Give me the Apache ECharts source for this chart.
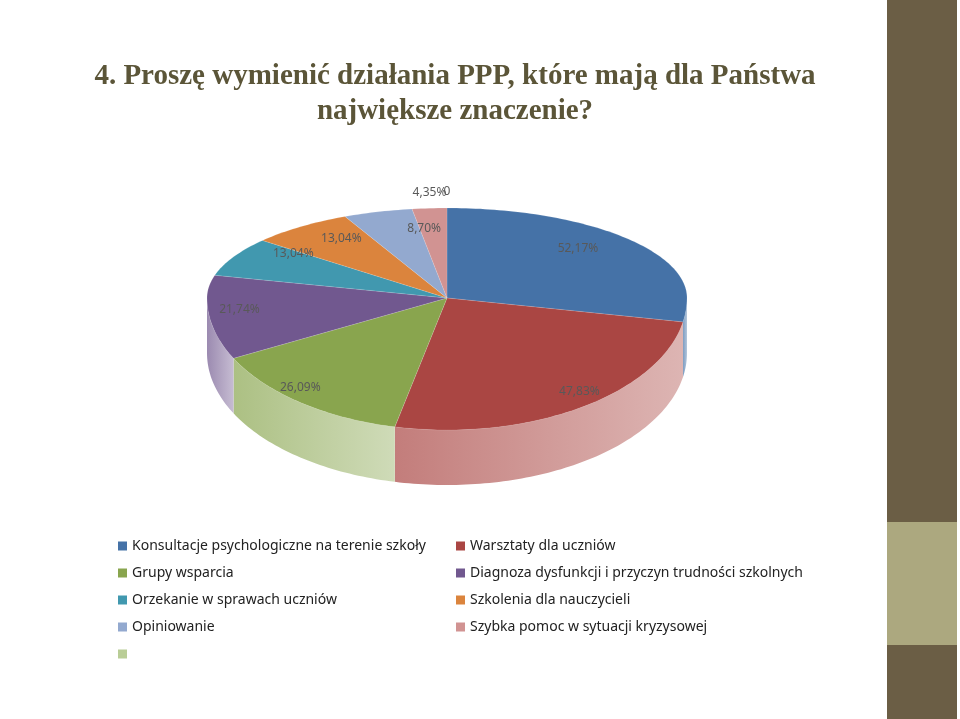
<!DOCTYPE html>
<html lang="pl">
<head>
<meta charset="UTF-8">
<title>PPP</title>
<script src="https://cdn.jsdelivr.net/npm/echarts@6/dist/echarts.min.js"></script>
<style>
  html, body { margin: 0; padding: 0; background: #fff; }
  #chart { width: 960px; height: 719px; }
</style>
</head>
<body>
<div id="chart"></div>
<script>
  // dane z wykresu
  const names = [
    'Konsultacje psychologiczne na terenie szkoły',
    'Warsztaty dla uczniów',
    'Grupy wsparcia',
    'Diagnoza dysfunkcji i przyczyn trudności szkolnych',
    'Orzekanie w sprawach uczniów',
    'Szkolenia dla nauczycieli',
    'Opiniowanie',
    'Szybka pomoc w sytuacji kryzysowej',
    ' '
  ];
  const values = [52.17, 47.83, 26.09, 21.74, 13.04, 13.04, 8.70, 4.35, 0];
  const colors = ['#4572a7', '#aa4643', '#89a54e', '#71588f', '#4198af',
                  '#db843d', '#93a9cf', '#d19392', '#b9cd96'];
  // położenie etykiet względem krawędzi (jak w Excelu)
  const labelKx = [0.71, 1.0, 1.0, 0.87, 0.72, 0.72, 0.33, 1.0, 1.0];
  const labelKy = [0.85, 0.85, 0.86, 0.8, 1.07, 0.83, 0.81, 1.18, 1.18];

  const chart = echarts.init(document.getElementById('chart'));

  // geometria pseudo-3D elipsy
  const cx = 447, cy = 298, rx = 240, ryBack = 90, ryFront = 132, depth = 55;
  const total = values.reduce((a, b) => a + b, 0);
  const starts = [];
  values.reduce((acc, v, i) => { starts[i] = acc; return acc + v; }, 0);

  function pt(theta, dy) {
    const c = Math.cos(theta);
    const ry = c > 0 ? ryBack : ryFront;
    return [cx + rx * Math.sin(theta), cy - ry * c + (dy || 0)];
  }
  function arc(a0, a1, dy) {
    const pts = [];
    const n = Math.max(2, Math.ceil((a1 - a0) / 0.02));
    for (let k = 0; k <= n; k++) pts.push(pt(a0 + (a1 - a0) * k / n, dy));
    return pts;
  }
  function fmt(v) {
    return v === 0 ? '0' : v.toFixed(2).replace('.', ',') + '%';
  }

  function makeRender(i) {
    return function () {
      const a0 = starts[i] / total * 2 * Math.PI;
      const a1 = (starts[i] + values[i]) / total * 2 * Math.PI;
      const children = [];
      const col = colors[i];
      // bok (widoczny z przodu)
      const s0 = Math.max(a0, Math.PI / 2), s1 = Math.min(a1, 1.5 * Math.PI);
      if (s1 > s0) {
        const top = arc(s0, s1, 0);
        const bot = arc(s0, s1, depth).reverse();
        children.push({
          type: 'polygon', z2: 1,
          shape: { points: top.concat(bot) },
          style: {
            fill: new echarts.graphic.LinearGradient(0, 0, 1, 0, [
              { offset: 0, color: echarts.color.lift(col, 0.3) },
              { offset: 1, color: echarts.color.lift(col, 0.6) }
            ])
          }
        });
      }
      // wierzch
      if (a1 > a0) {
        children.push({
          type: 'polygon', z2: 10,
          shape: { points: [[cx, cy]].concat(arc(a0, a1, 0)) },
          style: { fill: col, stroke: 'rgba(255,255,255,0.25)', lineWidth: 0.5 }
        });
      }
      // etykieta
      const mid = (a0 + a1) / 2;
      const p = pt(values[i] === 0 ? 2 * Math.PI : mid, 0);
      const lx = cx + (p[0] - cx) * labelKx[i];
      const ly = cy + (p[1] - cy) * labelKy[i];
      children.push({
        type: 'text', z2: 20,
        style: {
          x: lx, y: ly, text: fmt(values[i]), align: 'center', verticalAlign: 'middle',
          fill: '#595959', font: '12px "Noto Sans", sans-serif'
        }
      });
      return { type: 'group', children: children };
    };
  }

  const series = names.map((n, i) => ({
    type: 'custom', name: n, coordinateSystem: 'none',
    data: [[i]], color: colors[i], itemStyle: { color: colors[i] },
    renderItem: makeRender(i), silent: true
  }));

  const legendCommon = {
    orient: 'vertical', icon: 'rect', itemWidth: 9, itemHeight: 9, itemGap: 9,
    selectedMode: false,
    textStyle: { fontSize: 14, color: '#222', fontFamily: '"Noto Sans", sans-serif', lineHeight: 18 }
  };

  chart.setOption({
    animation: false,
    title: {
      text: '4. Proszę wymienić działania PPP, które mają dla Państwa\nnajwiększe znaczenie?',
      left: 450, top: 54, textAlign: 'center',
      textStyle: {
        fontFamily: '"Liberation Serif", serif', fontWeight: 'bold', fontSize: 29,
        color: '#5b5538', lineHeight: 35
      }
    },
    graphic: [
      { type: 'rect', shape: { x: 887, y: 0, width: 70, height: 719 }, style: { fill: '#6b5e45' } },
      { type: 'rect', shape: { x: 887, y: 522, width: 70, height: 123 }, style: { fill: '#aca87f' } }
    ],
    legend: [
      Object.assign({ left: 113, top: 532, data: [names[0], names[2], names[4], names[6], names[8]] }, legendCommon),
      Object.assign({ left: 451, top: 532, data: [names[1], names[3], names[5], names[7]] }, legendCommon)
    ],
    series: series
  });
</script>
</body>
</html>
